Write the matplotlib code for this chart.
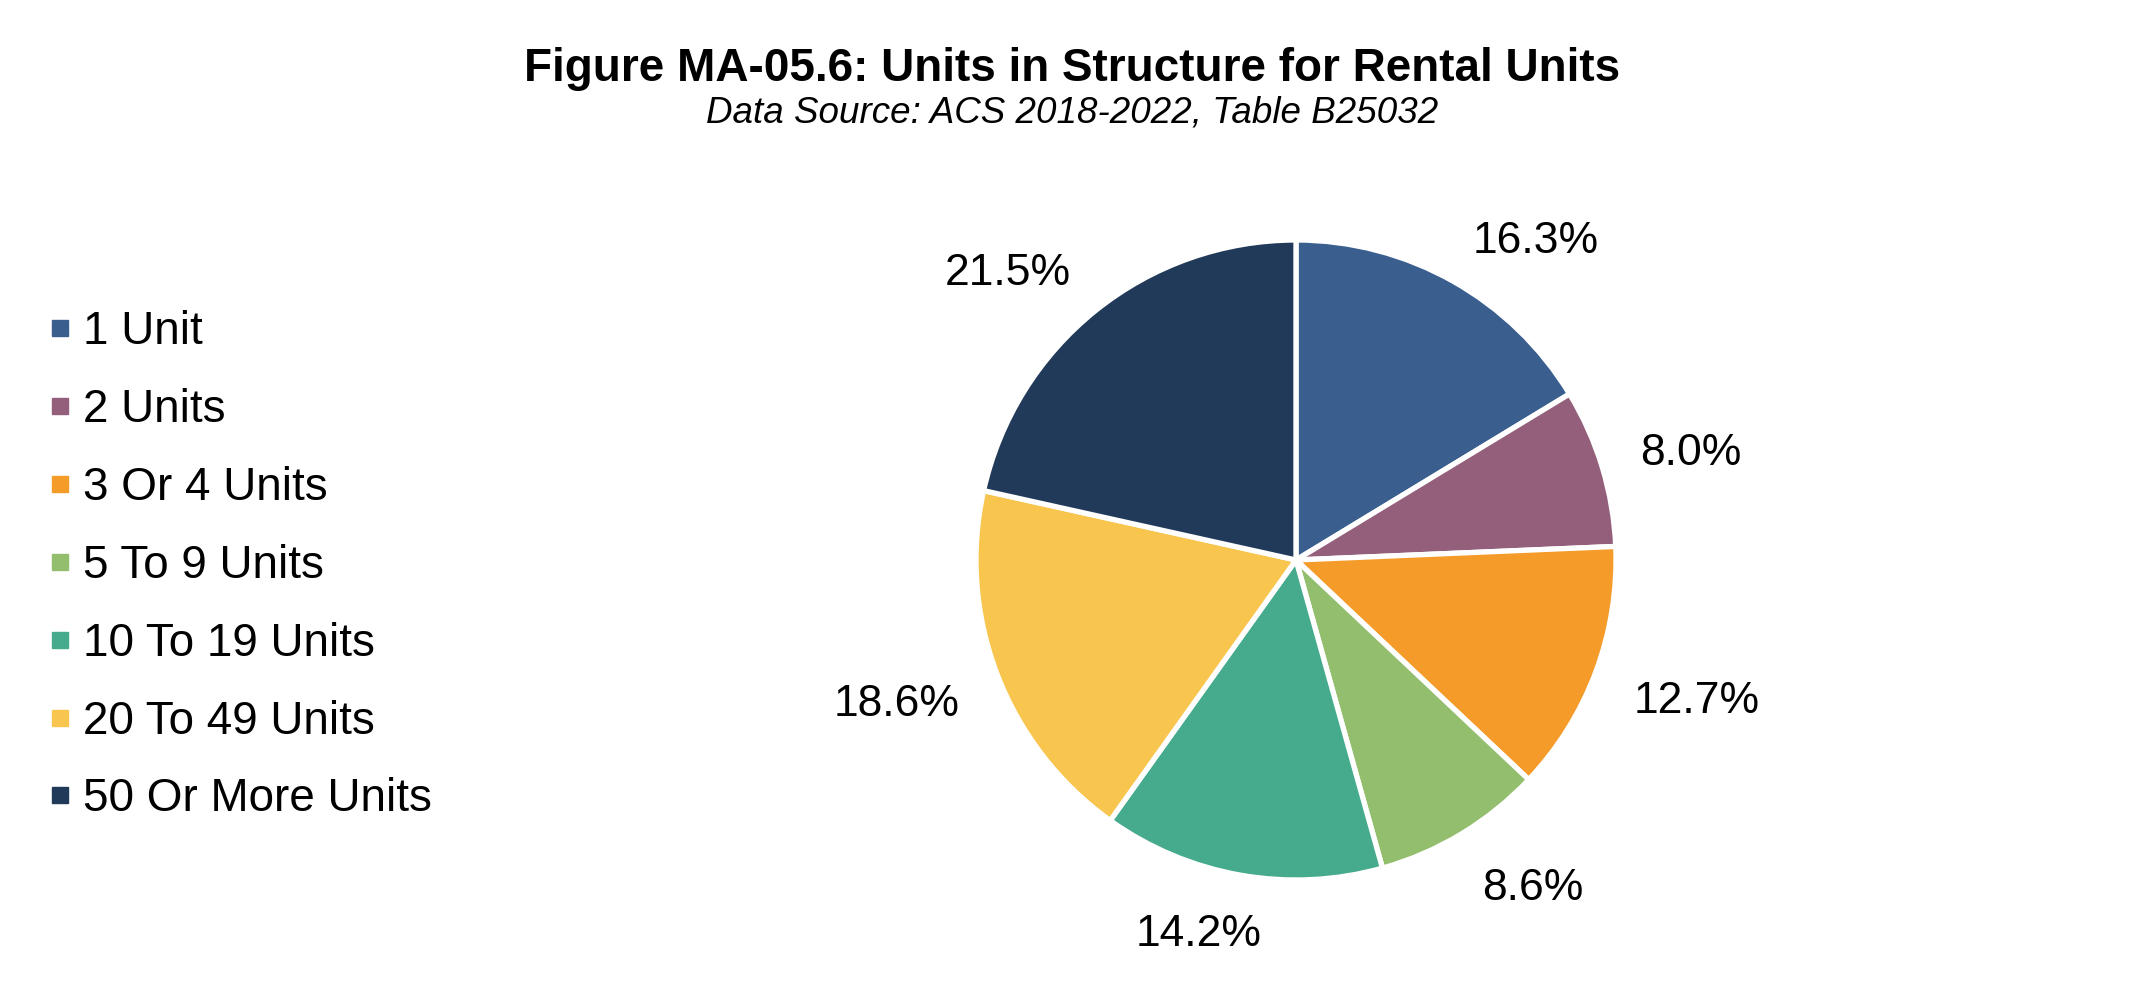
import numpy as np
import matplotlib
matplotlib.use("Agg")
import matplotlib.pyplot as plt
from matplotlib.lines import Line2D

plt.rcParams['font.family'] = ['Liberation Sans', 'DejaVu Sans']

categories = ["1 Unit", "2 Units", "3 Or 4 Units", "5 To 9 Units",
              "10 To 19 Units", "20 To 49 Units", "50 Or More Units"]
values = [16.3, 8.0, 12.7, 8.6, 14.2, 18.6, 21.5]
colors = ["#3A5F8F", "#935F7A", "#F59B2A", "#93BE6E", "#45AB8C", "#F8C64F", "#223A5A"]

title = "Figure MA-05.6: Units in Structure for Rental Units"
subtitle = "Data Source: ACS 2018-2022, Table B25032"

W, H = 2144, 989
DPI = 100
fig = plt.figure(figsize=(W / DPI, H / DPI), dpi=DPI)

cx, cy, r = 1296, 560, 320
ax = fig.add_axes([(cx - r) / W, (H - cy - r) / H, 2 * r / W, 2 * r / H])
wedges, _ = ax.pie(values, colors=colors, startangle=90, counterclock=False,
                   radius=1, wedgeprops=dict(edgecolor='white', linewidth=3.8))
ax.set_xlim(-1, 1)
ax.set_ylim(-1, 1)
ax.set_aspect('equal')
ax.axis('off')

label_fs = 32
cap_px = 0.716 * label_fs * DPI / 72
R = 1.125
texts = []
for w, v in zip(wedges, values):
    th = np.deg2rad((w.theta1 + w.theta2) / 2)
    p = (R * np.cos(th), R * np.sin(th))
    t = ax.annotate(f"{v:.1f}%", xy=p, xytext=(0, 0), textcoords='offset pixels',
                    ha='center', va='baseline', fontsize=label_fs, color='black',
                    annotation_clip=False)
    texts.append((t, th))

fig.text(0.5, 1 - 69 / H, title, ha='center', va='center',
         fontsize=33, fontweight='bold')
fig.text(0.5, 1 - 113 / H, subtitle, ha='center', va='center',
         fontsize=26.5, fontstyle='italic')

leg_fs = 33
fs_px = leg_fs * DPI / 72
handles = [Line2D([], [], marker='s', linestyle='none', markersize=11.5,
                  markerfacecolor=c, markeredgecolor=c) for c in colors]
fig.legend(handles, categories, loc='upper left',
           bbox_to_anchor=(49 / W, 1 - 310 / H), frameon=False, fontsize=leg_fs,
           handlelength=21.5 / fs_px, handletextpad=12.5 / fs_px, labelspacing=0.74,
           borderpad=0, borderaxespad=0)

fig.canvas.draw()
renderer = fig.canvas.get_renderer()
for t, th in texts:
    bb = t.get_window_extent(renderer)
    fx = np.clip(3.3 * np.cos(th), -1, 1)
    fy = np.clip(2 * np.sin(th), -1, 1)
    dy = cap_px / 2 * fy - cap_px / 2 - 8 * max(np.sin(th), 0)
    t.xyann = (bb.width / 2 * fx, dy)

fig.savefig("out.png", dpi=DPI, facecolor='white')
